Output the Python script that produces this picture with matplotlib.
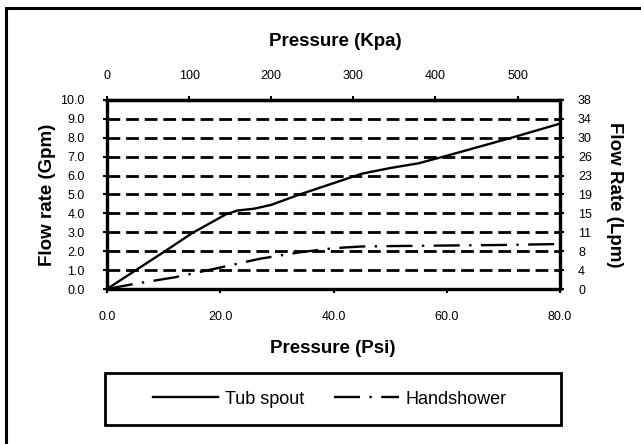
import matplotlib
matplotlib.use("Agg")
import matplotlib.pyplot as plt
from matplotlib.patches import Rectangle
from matplotlib.lines import Line2D

plt.rcParams['font.family'] = ['Liberation Sans', 'DejaVu Sans']

# ---- data ----
tub_psi = [0, 5, 10, 15, 21, 23, 26, 29, 34, 40, 45, 50, 55, 60, 66, 72, 80]
tub_gpm = [0, 0.98, 1.95, 2.95, 3.95, 4.15, 4.25, 4.45, 5.0, 5.6, 6.1, 6.4, 6.65, 7.05, 7.55, 8.05, 8.75]
hand_psi = [0, 5, 12, 19, 27, 34, 40, 45, 50, 60, 70, 80]
hand_gpm = [0, 0.28, 0.62, 1.07, 1.6, 1.94, 2.16, 2.25, 2.27, 2.3, 2.33, 2.38]

gpm_ticks = [0.0, 1.0, 2.0, 3.0, 4.0, 5.0, 6.0, 7.0, 8.0, 9.0, 10.0]
lpm_labels = ["0", "4", "8", "11", "15", "19", "23", "26", "30", "34", "38"]
psi_ticks = [0.0, 20.0, 40.0, 60.0, 80.0]
kpa_ticks = [0, 100, 200, 300, 400, 500]
KPA_PER_PSI = 6.895

W, H = 641, 444
fig = plt.figure(figsize=(W / 100, H / 100), dpi=100)

def fx(px):
    return px / W

def fy(py):
    return 1 - py / H

# outer border (only top/left visible)
fig.patches.append(Rectangle((fx(6), fy(460)), fx(700), fy(8) - fy(460),
                             transform=fig.transFigure, fill=False,
                             edgecolor='black', linewidth=2.2))

x0, x1, ytop, ybot = 107, 560, 100, 289
ax = fig.add_axes([fx(x0), fy(ybot), fx(x1 - x0), fy(ytop) - fy(ybot)])

ax.set_xlim(0, 80)
ax.set_ylim(0, 10)
ax.set_yticks(gpm_ticks)
ax.set_yticklabels([f"{v:.1f}" for v in gpm_ticks])
ax.set_xticks(psi_ticks)
ax.set_xticklabels([f"{v:.1f}" for v in psi_ticks])

for v in gpm_ticks[1:-1]:
    ax.axhline(v, color='black', lw=2.0, ls=(0, (4.6, 2.1)), zorder=1)

ax.plot(tub_psi, tub_gpm, color='black', lw=1.7, zorder=3, solid_capstyle='butt')
ax.plot(hand_psi, hand_gpm, color='black', lw=1.7, zorder=3,
        dashes=(11, 4, 1, 4))

for s in ax.spines.values():
    s.set_linewidth(2.3)

ax.tick_params(axis='both', labelsize=9, direction='out', width=1.5, length=3)
ax.tick_params(axis='x', pad=13)
ax.tick_params(axis='y', pad=13)

# right axis
axr = ax.twinx()
axr.set_ylim(0, 10)
axr.set_yticks(gpm_ticks)
axr.set_yticklabels(lpm_labels)
axr.tick_params(axis='y', labelsize=9, direction='out', width=1.5, length=3, pad=10)
for s in axr.spines.values():
    s.set_linewidth(2.3)

# top axis (kPa)
axt = ax.secondary_xaxis('top', functions=(lambda p: p * KPA_PER_PSI,
                                           lambda k: k / KPA_PER_PSI))
axt.set_xticks(kpa_ticks)
axt.tick_params(axis='x', labelsize=9, direction='out', width=1.5, length=3, pad=10)
axt.spines['top'].set_linewidth(2.3)

# labels
fig.text(fx(335), fy(42), "Pressure (Kpa)", ha='center', va='center',
         fontsize=13.5, fontweight='bold')
fig.text(fx(333), fy(348), "Pressure (Psi)", ha='center', va='center',
         fontsize=13.5, fontweight='bold')
fig.text(fx(48), fy(195), "Flow rate (Gpm)", ha='center', va='center',
         rotation=90, fontsize=13.5, fontweight='bold')
fig.text(fx(614), fy(195), "Flow Rate (Lpm)", ha='center', va='center',
         rotation=270, fontsize=13.5, fontweight='bold')

# legend box
fig.patches.append(Rectangle((fx(105), fy(425)), fx(456), fy(373) - fy(425),
                             transform=fig.transFigure, fill=False,
                             edgecolor='black', linewidth=2.0))
handles = [Line2D([], [], color='black', lw=1.7),
           Line2D([], [], color='black', lw=1.7, dashes=(11, 4, 1, 4))]
fig.legend(handles, ["Tub spout", "Handshower"], loc='center',
           bbox_to_anchor=(fx(330), fy(399)), ncol=2, frameon=False,
           fontsize=13, handlelength=3.6, handletextpad=0.4, columnspacing=1.6)

fig.savefig("out.png", dpi=100)
